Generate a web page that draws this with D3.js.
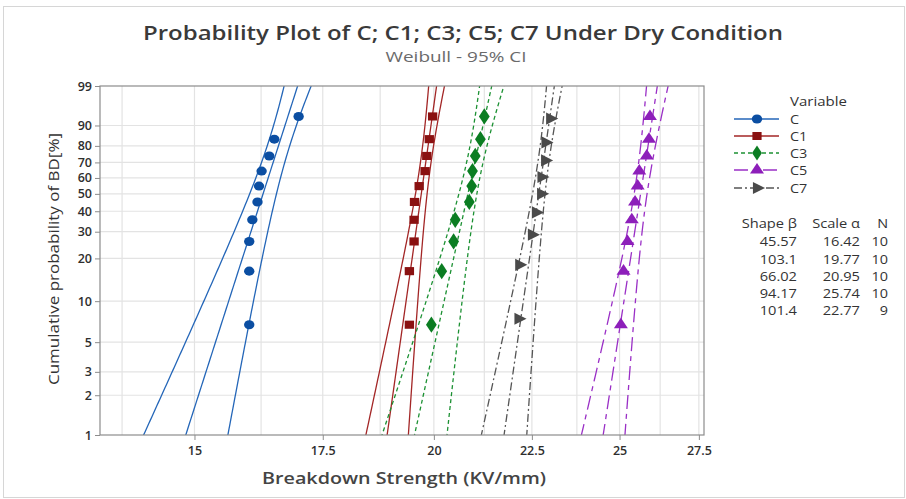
<!DOCTYPE html>
<html>
<head>
<meta charset="utf-8">
<script src="https://cdn.jsdelivr.net/npm/d3@7"></script>
<style>
  html, body { margin: 0; padding: 0; background: #fff; }
  svg { display: block; font-family: "Open Sans", "Noto Sans", sans-serif; }
</style>
</head>
<body>
<svg id="chart" width="906" height="499"></svg>
<script>
// Breakdown strength samples (KV/mm), sorted, one array per variable
const series = ["C", "C1", "C3", "C5", "C7"];
const valuesC  = [16.02, 16.02, 16.02, 16.08, 16.18, 16.21, 16.26, 16.41, 16.51, 17.00];
const valuesC1 = [19.42, 19.42, 19.53, 19.53, 19.54, 19.65, 19.79, 19.83, 19.89, 19.97];
const valuesC3 = [19.94, 20.19, 20.48, 20.52, 20.87, 20.93, 20.95, 21.02, 21.15, 21.25];
const valuesC5 = [25.04, 25.12, 25.24, 25.37, 25.47, 25.55, 25.60, 25.83, 25.90, 25.93];
const valuesC7 = [22.14, 22.16, 22.50, 22.61, 22.75, 22.76, 22.86, 22.87, 23.00];

// Weibull fit table
const shapes = [45.57, 103.1, 66.02, 94.17, 101.4];
const scales = [16.42, 19.77, 20.95, 25.74, 22.77];
const counts = [10, 10, 10, 10, 9];

// Axis ticks
const xTicks = [15, 17.5, 20, 22.5, 25, 27.5];
const xMinorGrid = [13.75, 16.25, 18.75, 21.25, 23.75, 26.25];
const yTicks = [1, 2, 3, 5, 10, 20, 30, 40, 50, 60, 70, 80, 90, 99];

const dataBySeries = [valuesC, valuesC1, valuesC3, valuesC5, valuesC7];

const styles = {
  C:  { line: "#2466b8", mark: "#0b4ea2", dash: null,       symbol: d3.symbolCircle },
  C1: { line: "#a32626", mark: "#8a1111", dash: null,       symbol: d3.symbolSquare },
  C3: { line: "#1c9133", mark: "#0b7d22", dash: "4,3",      symbol: d3.symbolDiamond },
  C5: { line: "#9a2fc6", mark: "#8d1fba", dash: "14,5,5,5", symbol: d3.symbolTriangle },
  C7: { line: "#555555", mark: "#4a4a4a", dash: "8,3,2,3",  symbol: d3.symbolTriangle, rotate: 90 }
};

const svg = d3.select("#chart");
const plot = { left: 100, right: 704, top: 86, bottom: 435 };

// stretch a text horizontally by factor k (wide lettering)
function widen(sel, k) {
  sel.each(function () {
    const len = this.getComputedTextLength();
    d3.select(this).attr("textLength", len * k).attr("lengthAdjust", "spacingAndGlyphs");
  });
  return sel;
}

// Weibull probability transform: ln(-ln(1 - p))
const wOf = pct => Math.log(-Math.log(1 - pct / 100));

const x = d3.scaleLog().domain([13.39, 27.67]).range([plot.left, plot.right]);
const y = d3.scaleLinear().domain([wOf(1), wOf(99)]).range([plot.bottom, plot.top]);

// outer frame
svg.append("rect").attr("x", 3.5).attr("y", 6.5).attr("width", 901).attr("height", 491)
  .attr("fill", "none").attr("stroke", "#d6d6d6");

// titles
svg.append("text").attr("x", 463).attr("y", 40).attr("text-anchor", "middle")
  .attr("font-size", 20).attr("font-weight", 600).attr("fill", "#3a3a3a")
  .attr("textLength", 640).attr("lengthAdjust", "spacingAndGlyphs")
  .text("Probability Plot of C; C1; C3; C5; C7 Under Dry Condition");
svg.append("text").attr("x", 456).attr("y", 62).attr("text-anchor", "middle")
  .attr("font-size", 14.5).attr("fill", "#6a6a6a")
  .attr("textLength", 141).attr("lengthAdjust", "spacingAndGlyphs")
  .text("Weibull - 95% CI");

// grid
const grid = svg.append("g");
grid.selectAll(".gx").data(xTicks.concat(xMinorGrid).filter(v => x(v) < plot.right - 1)).enter()
  .append("line").attr("x1", d => x(d)).attr("x2", d => x(d))
  .attr("y1", plot.top).attr("y2", plot.bottom)
  .attr("stroke", "#e3e3e3").attr("stroke-width", 1.2);
grid.selectAll(".gy").data(yTicks.slice(1, -1)).enter()
  .append("line").attr("y1", d => y(wOf(d))).attr("y2", d => y(wOf(d)))
  .attr("x1", plot.left).attr("x2", plot.right)
  .attr("stroke", "#e3e3e3").attr("stroke-width", 1.2);

// axes
const xAxis = d3.axisBottom(x).tickValues(xTicks).tickFormat(d3.format("~g")).tickSize(5).tickPadding(6);
const yAxis = d3.axisLeft(y).tickValues(yTicks.map(wOf))
  .tickFormat((d, i) => String(yTicks[i])).tickSize(5).tickPadding(3);

const gx = svg.append("g").attr("transform", `translate(0,${plot.bottom})`).call(xAxis);
const gy = svg.append("g").attr("transform", `translate(${plot.left},0)`).call(yAxis);
[gx, gy].forEach(g => {
  g.select(".domain").remove();
  g.selectAll(".tick line").attr("stroke", "#8c8c8c");
  g.selectAll(".tick text").attr("font-size", 12.5).attr("font-weight", 600)
    .attr("fill", "#2e2e2e").attr("font-family", "'Open Sans', sans-serif");
});

svg.append("text").attr("transform", "translate(55,259) rotate(-90)")
  .attr("text-anchor", "middle").attr("dominant-baseline", "middle")
  .attr("font-size", 15).attr("fill", "#333")
  .attr("textLength", 252).attr("lengthAdjust", "spacingAndGlyphs")
  .text("Cumulative probability of BD[%]");
svg.append("text").attr("x", 404).attr("y", 484).attr("text-anchor", "middle")
  .attr("font-size", 16.5).attr("font-weight", 600).attr("fill", "#444")
  .attr("textLength", 284).attr("lengthAdjust", "spacingAndGlyphs")
  .text("Breakdown Strength (KV/mm)");

// clip to plot area
svg.append("clipPath").attr("id", "plotclip").append("rect")
  .attr("x", plot.left).attr("y", plot.top)
  .attr("width", plot.right - plot.left).attr("height", plot.bottom - plot.top);

const fits = svg.append("g").attr("clip-path", "url(#plotclip)");
const marks = svg.append("g");

// Weibull fit line and 95% CI (observed Fisher information on the ln scale)
function bands(data, alpha, beta) {
  const mu = Math.log(alpha), s = 1 / beta;
  let imm = 0, ims = 0, iss = 0;
  data.forEach(v => {
    const z = (Math.log(v) - mu) / s, e = Math.exp(z);
    imm += e;
    ims += e - 1 + z * e;
    iss += -(1 + 2 * z - 2 * z * e - z * z * e);
  });
  imm /= s * s; ims /= s * s; iss /= s * s;
  const det = imm * iss - ims * ims;
  const vmm = iss / det, vss = imm / det, vms = -ims / det;
  return w => {
    const c = mu + s * w;
    const se = Math.sqrt(Math.max(vmm + w * w * vss + 2 * w * vms, 0));
    return [Math.exp(c), Math.exp(c - 1.96 * se), Math.exp(c + 1.96 * se)];
  };
}

const wLo = wOf(1) - 0.05, wHi = wOf(99) + 0.05;
const wGrid = d3.range(0, 121).map(i => wLo + (wHi - wLo) * i / 120);
const line = d3.line().x(d => x(d[0])).y(d => y(d[1]));

series.forEach((name, k) => {
  const st = styles[name];
  const data = dataBySeries[k];
  const f = bands(data, scales[k], shapes[k]);
  const pts = wGrid.map(w => [w, f(w)]);
  [0, 1, 2].forEach(j => {
    fits.append("path")
      .attr("d", line(pts.map(p => [p[1][j], p[0]])))
      .attr("fill", "none").attr("stroke", st.line).attr("stroke-width", 1.3)
      .attr("stroke-dasharray", st.dash);
  });
  const n = data.length;
  const sym = d3.symbol().type(st.symbol).size(name === "C1" ? 66 : name === "C3" ? 76 : 64);
  marks.selectAll(null).data(data).enter().append("path")
    .attr("d", sym)
    .attr("transform", (v, i) => `translate(${x(v)},${y(wOf(100 * (i + 1 - 0.3) / (n + 0.4)))}) scale(1.15,1)` + (st.rotate ? ` rotate(${st.rotate})` : ""))
    .attr("fill", st.mark);
});

// plot border
svg.append("rect").attr("x", plot.left).attr("y", plot.top)
  .attr("width", plot.right - plot.left).attr("height", plot.bottom - plot.top)
  .attr("fill", "none").attr("stroke", "#8c8c8c").attr("stroke-width", 1.2);

// legend
const lg = svg.append("g");
lg.append("text").attr("x", 790).attr("y", 106).attr("font-size", 12.5).attr("fill", "#333").text("Variable")
  .call(widen, 1.2);
const rowsY = [119, 136, 153, 170, 188];
series.forEach((name, k) => {
  const st = styles[name];
  const yy = rowsY[k];
  lg.append("line").attr("x1", 734).attr("x2", 779).attr("y1", yy).attr("y2", yy)
    .attr("stroke", st.line).attr("stroke-width", 1.4).attr("stroke-dasharray", st.dash);
  lg.append("path").attr("d", d3.symbol().type(st.symbol).size(64))
    .attr("transform", `translate(757,${yy}) scale(1.15,1)` + (st.rotate ? ` rotate(${st.rotate})` : ""))
    .attr("fill", st.mark);
  lg.append("text").attr("x", 790).attr("y", yy + 4.5).attr("font-size", 12.5).attr("fill", "#333").text(name)
    .call(widen, 1.15);
});

// fit table
const tb = svg.append("g").attr("font-size", 12).attr("fill", "#333").attr("text-anchor", "end");
tb.append("text").attr("x", 797).attr("y", 228).text("Shape β").call(widen, 1.22);
tb.append("text").attr("x", 860).attr("y", 228).text("Scale α").call(widen, 1.22);
tb.append("text").attr("x", 888).attr("y", 228).text("N").call(widen, 1.2);
const fmt = d3.format(".4r");
const tableY = [246, 264, 281, 298, 315];
series.forEach((name, k) => {
  tb.append("text").attr("x", 797).attr("y", tableY[k]).text(fmt(shapes[k])).call(widen, 1.22);
  tb.append("text").attr("x", 860).attr("y", tableY[k]).text(fmt(scales[k])).call(widen, 1.22);
  tb.append("text").attr("x", 888).attr("y", tableY[k]).text(counts[k]).call(widen, 1.2);
});
</script>
</body>
</html>
